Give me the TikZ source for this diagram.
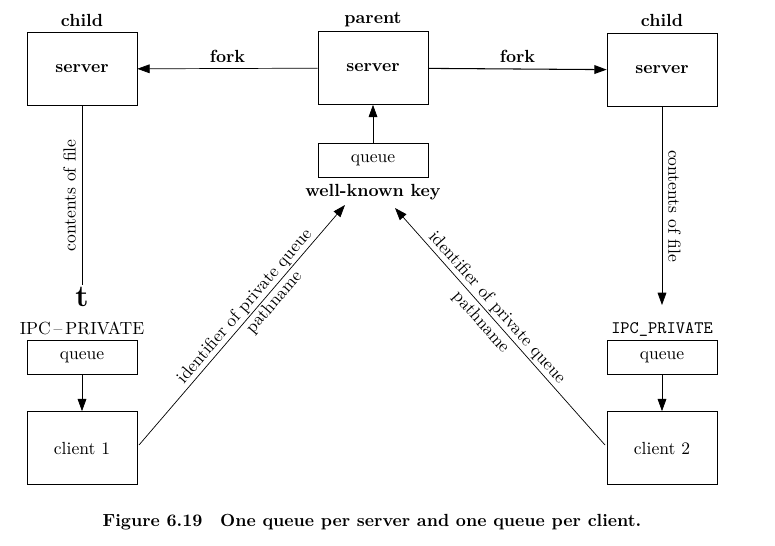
\documentclass[tikz,border=0pt]{standalone}
\usetikzlibrary{arrows.meta}
\begin{document}
\begin{tikzpicture}[x=0.02cm,y=-0.02cm,
    box/.style={draw, thin, minimum width=2.2cm, inner sep=0pt, font=\normalsize},
    big/.style={box, minimum height=1.46cm},
    small/.style={box, minimum height=0.68cm},
    head/.style={font=\normalsize\bfseries},
    arr/.style={-{Triangle[length=7pt,width=5pt]}, thin}]
        \useasboundingbox (0,0) rectangle (775,545);

        % Servers
        \node[big, font=\normalsize\bfseries] (lsrv) at (82,69) {server};
        \node[big, font=\normalsize\bfseries] (psrv) at (373,68) {server};
        \node[big, font=\normalsize\bfseries] (rsrv) at (662,70) {server};
        \node[head] at (82,20) {child};
        \node[head] at (373,20) {parent};
        \node[head] at (662,20) {child};

        % Queues
        \node[small] (pq) at (373,160) {queue};
        \node[head] (key) at (373,192) {well-known key};
        \node[small] (lq) at (82,357) {queue};
        \node[small] (rq) at (662,357) {queue};
        \node[font=\normalsize] at (82,328) {IPC\,--\,PRIVATE};
        \node[font=\normalsize\ttfamily] at (662,329) {IPC\_PRIVATE};

        % Clients
        \node[big] (c1) at (82,448) {client 1};
        \node[big] (c2) at (662,448) {client 2};

        % Fork arrows
        \draw[arr] (psrv) -- node[above, head] {fork} (lsrv);
        \draw[arr, semithick] (psrv) -- node[above, head] {fork} (rsrv);
        \draw[arr] (pq) -- (psrv);

        % Contents of file
        \coordinate (lend) at (82,285);
        \coordinate (rend) at (662,305);
        \draw (lsrv) -- node[rotate=90, anchor=south, font=\normalsize] {contents of file} (lend);
        \node[font=\LARGE\bfseries] (tt) at (82,297) {t};
        \draw[arr] (rsrv) -- node[rotate=-90, anchor=south, font=\normalsize] {contents of file} (rend);
        \draw[arr] (lq) -- (c1);
        \draw[arr] (rq) -- (c2);

        % Client requests
        \coordinate (la) at (139,445);
        \coordinate (lb) at (345,205);
        \coordinate (ra) at (605,445);
        \coordinate (rb) at (395,208);
        \draw[arr] (la) -- node[sloped, above, pos=0.55, inner sep=1pt] {identifier of private queue}
            node[sloped, below, pos=0.62, inner sep=1pt] {pathname} (lb);
        \path (rb) -- node[sloped, above, pos=0.45, inner sep=1pt] {identifier of private queue}
            node[sloped, below, pos=0.45, inner sep=2pt] {pathname} (ra);
        \draw[arr] (ra) -- (rb);

        % Caption
        \node[font=\normalsize\bfseries] at (372,522) {Figure 6.19\quad One queue per server and one queue per client.};
\end{tikzpicture}
\end{document}
